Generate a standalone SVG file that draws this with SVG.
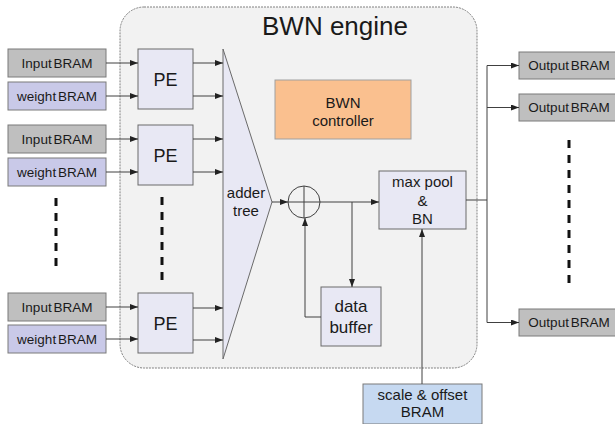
<svg xmlns="http://www.w3.org/2000/svg" width="615" height="424" viewBox="0 0 615 424">
<style>
text{font-family:"Liberation Sans",Arial,sans-serif;fill:#1a1a1a;text-anchor:middle}
.bram{font-size:13.5px;word-spacing:-2px}
.in{fill:#bfbfbf;stroke:#7a7a7a;stroke-width:1}
.wt{fill:#c9c9e8;stroke:#7a7a7a;stroke-width:1}
.blk{fill:#e8e8f4;stroke:#6a6a6a;stroke-width:1}
.ln{fill:none;stroke:#404040;stroke-width:1}
.dash{fill:none;stroke:#111;stroke-width:3;stroke-dasharray:8 7}
</style>
<defs>
<marker id="ah" viewBox="0 0 8 6" refX="8" refY="3" markerWidth="8" markerHeight="6" markerUnits="userSpaceOnUse" orient="auto">
<path d="M0,0 L8,3 L0,6 Z" fill="#222"/>
</marker>
</defs>
<rect width="615" height="424" fill="#ffffff"/>
<g id="engine">
<rect x="120" y="7" width="357" height="361" rx="24" fill="#f2f2f2" stroke="#808080" stroke-width="1" stroke-dasharray="2 1"/>
<text x="335" y="35" style="font-size:26px">BWN engine</text>
</g>
<g id="input1"><rect class="in" x="8" y="49" width="98" height="28"/><text class="bram" x="57" y="67.5">Input BRAM</text></g>
<g id="weight1"><rect class="wt" x="8" y="82" width="98" height="28"/><text class="bram" x="57" y="100.5">weight BRAM</text></g>
<g id="input2"><rect class="in" x="8" y="125" width="98" height="28"/><text class="bram" x="57" y="143.5">Input BRAM</text></g>
<g id="weight2"><rect class="wt" x="8" y="158" width="98" height="28"/><text class="bram" x="57" y="176.5">weight BRAM</text></g>
<g id="input3"><rect class="in" x="8" y="293" width="98" height="28"/><text class="bram" x="57" y="311.5">Input BRAM</text></g>
<g id="weight3"><rect class="wt" x="8" y="325" width="98" height="28"/><text class="bram" x="57" y="343.5">weight BRAM</text></g>
<g id="pe1"><rect class="blk" x="138" y="49" width="55" height="60"/><text x="165.5" y="86" style="font-size:18px">PE</text></g>
<g id="pe2"><rect class="blk" x="138" y="125" width="55" height="60"/><text x="165.5" y="162" style="font-size:18px">PE</text></g>
<g id="pe3"><rect class="blk" x="138" y="293" width="55" height="60"/><text x="165.5" y="330" style="font-size:18px">PE</text></g>
<g id="adder-tree">
<polygon class="blk" points="223,49 272,202 223,359"/>
<text x="246" y="198" style="font-size:15px">adder</text>
<text x="246" y="216" style="font-size:15px">tree</text>
</g>
<g id="adder">
<circle cx="304" cy="202" r="16" fill="none" stroke="#404040" stroke-width="1"/>
<path d="M288,202 H320 M304,186 V218" stroke="#404040" stroke-width="1"/>
</g>
<g id="controller">
<rect x="275" y="80" width="136" height="59" fill="#fac08f" stroke="#a0a0a0" stroke-width="1"/>
<text x="343" y="108" style="font-size:15px">BWN</text>
<text x="343" y="126" style="font-size:15px">controller</text>
</g>
<g id="maxpool">
<rect class="blk" x="379" y="171" width="87" height="58"/>
<text x="422.5" y="187" style="font-size:15px">max pool</text>
<text x="422.5" y="205.5" style="font-size:15px">&amp;</text>
<text x="422.5" y="224" style="font-size:15px">BN</text>
</g>
<g id="databuffer">
<rect class="blk" x="321" y="287" width="60" height="59"/>
<text x="351" y="312" style="font-size:17px">data</text>
<text x="351" y="333" style="font-size:17px">buffer</text>
</g>
<g id="scale">
<rect x="363" y="384" width="119" height="40" fill="#c6d9f1" stroke="#7a7a7a" stroke-width="1"/>
<text x="422.5" y="400" style="font-size:15px">scale &amp; offset</text>
<text x="422.5" y="417" style="font-size:15px">BRAM</text>
</g>
<g id="output1"><rect class="in" x="519" y="52" width="100" height="27"/><text class="bram" x="569" y="70">Output BRAM</text></g>
<g id="output2"><rect class="in" x="519" y="94" width="100" height="27"/><text class="bram" x="569" y="112">Output BRAM</text></g>
<g id="output3"><rect class="in" x="519" y="309" width="100" height="27"/><text class="bram" x="569" y="327">Output BRAM</text></g>
<g id="ellipses">
<line class="dash" x1="56" y1="198" x2="56" y2="268"/>
<line class="dash" x1="162" y1="197" x2="162" y2="282"/>
<line class="dash" x1="569" y1="140" x2="569" y2="286"/>
</g>
<g id="connectors">
<path class="ln" marker-end="url(#ah)" d="M106,63 H138"/>
<path class="ln" marker-end="url(#ah)" d="M106,96 H138"/>
<path class="ln" marker-end="url(#ah)" d="M106,139 H138"/>
<path class="ln" marker-end="url(#ah)" d="M106,172 H138"/>
<path class="ln" marker-end="url(#ah)" d="M106,307 H138"/>
<path class="ln" marker-end="url(#ah)" d="M106,339 H138"/>
<path class="ln" marker-end="url(#ah)" d="M193,63 H223"/>
<path class="ln" marker-end="url(#ah)" d="M193,96 H223"/>
<path class="ln" marker-end="url(#ah)" d="M193,139 H223"/>
<path class="ln" marker-end="url(#ah)" d="M193,172 H223"/>
<path class="ln" marker-end="url(#ah)" d="M193,308 H223"/>
<path class="ln" marker-end="url(#ah)" d="M193,340 H223"/>
<path class="ln" marker-end="url(#ah)" d="M272,202 H288"/>
<path class="ln" marker-end="url(#ah)" d="M320,202 H379"/>
<path class="ln" marker-end="url(#ah)" d="M352,202 V287"/>
<path class="ln" marker-end="url(#ah)" d="M321,317 H305 V218"/>
<path class="ln" marker-end="url(#ah)" d="M422,384 V229"/>
<path class="ln" d="M466,200 H487 M487,65.5 V322.5"/>
<path class="ln" marker-end="url(#ah)" d="M487,65.5 H519"/>
<path class="ln" marker-end="url(#ah)" d="M487,107.5 H519"/>
<path class="ln" marker-end="url(#ah)" d="M487,322.5 H519"/>
</g>
</svg>
